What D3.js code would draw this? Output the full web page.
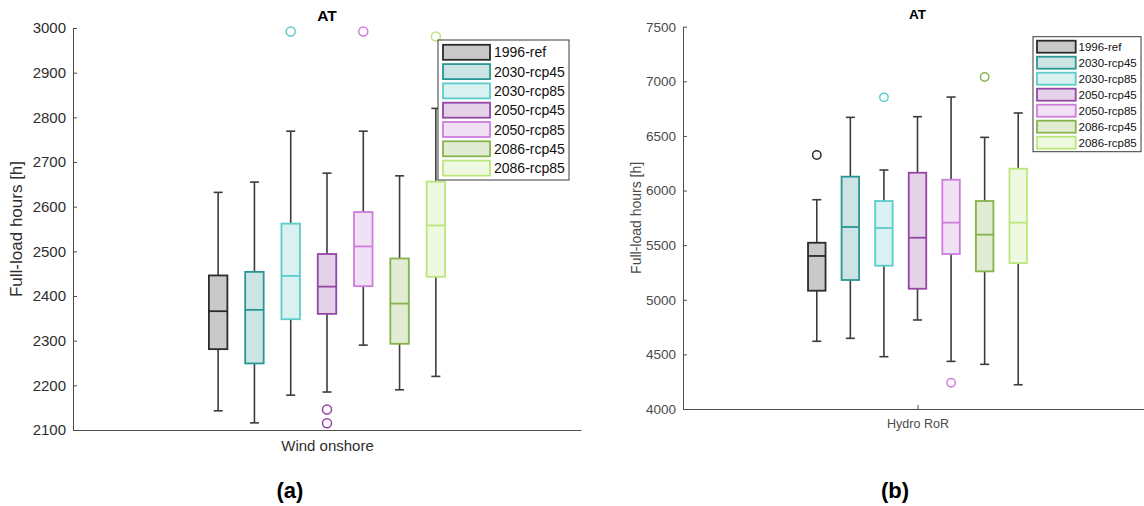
<!DOCTYPE html>
<html><head><meta charset="utf-8">
<script src="https://cdn.jsdelivr.net/npm/d3@7"></script>
<style>body{margin:0;background:#fff}svg{display:block}</style>
</head><body>
<svg id="c" width="1144" height="506"></svg>
<script>
// ---------- DATA ----------
const series = ["1996-ref","2030-rcp45","2030-rcp85","2050-rcp45","2050-rcp85","2086-rcp45","2086-rcp85"];
const edgeColors = ["#2b2b2b","#2a9694","#5ccccb","#9445a6","#cf7ddc","#86b34a","#bae77c"];
const fillColors = ["#c9c9c9","#cde4e4","#d9f1f1","#e4d3e8","#f1e1f5","#e2ebd4","#eff8e1"];

// Panel (a): Wind onshore
const windCategory = ["Wind onshore"];
const windLow  = [2143, 2116, 2178, 2185, 2290, 2190, 2220];
const windQ1   = [2281, 2249, 2348, 2360, 2422, 2293, 2443];
const windMed  = [2366, 2369, 2445, 2421, 2511, 2383, 2558];
const windQ3   = [2446, 2454, 2562, 2494, 2588, 2484, 2656];
const windHigh = [2632, 2655, 2769, 2675, 2769, 2669, 2820];
const windOut  = [[], [], [2992], [2146, 2115], [2992], [], [2981]];
const windTicks = [2100,2200,2300,2400,2500,2600,2700,2800,2900,3000];

// Panel (b): Hydro RoR
const hydroCategory = ["Hydro RoR"];
const hydroLow  = [4620, 4647, 4479, 4815, 4436, 4409, 4222];
const hydroQ1   = [5083, 5181, 5312, 5101, 5419, 5260, 5336];
const hydroMed  = [5401, 5666, 5657, 5568, 5706, 5596, 5706];
const hydroQ3   = [5522, 6127, 5904, 6163, 6099, 5904, 6200];
const hydroHigh = [5916, 6670, 6188, 6676, 6856, 6487, 6710];
const hydroOut  = [[6325], [], [6853], [], [4241], [7039], []];
const hydroTicks = [4000,4500,5000,5500,6000,6500,7000,7500];

const yLabel = "Full-load hours [h]";
const title = "AT";
const panelLabels = ["(a)", "(b)"];

// ---------- DRAW ----------
const svg = d3.select("#c");

function panel(cfg) {
  const g = svg.append("g");
  const x = d3.scalePoint().domain(cfg.category).range([cfg.x0, cfg.x1]).padding(0.5);
  const y = d3.scaleLinear().domain([cfg.ticks[0], cfg.ticks[cfg.ticks.length-1]]).range([cfg.y1, cfg.y0]);
  const cx = x(cfg.category[0]);
  const sx = d3.scaleBand().domain(series).range([cx - cfg.groupW/2, cx + cfg.groupW/2]);
  const bw = cfg.boxW, cap = cfg.capW;

  // axes
  const ya = d3.axisLeft(y).tickValues(cfg.ticks).tickSizeInner(-4).tickSizeOuter(0).tickPadding(7).tickFormat(d3.format("d"));
  const yg = g.append("g").attr("transform", `translate(${cfg.x0},0)`).call(ya);
  yg.select(".domain").attr("stroke", "#4d4d4d");
  yg.selectAll(".tick line").attr("stroke", "#4d4d4d");
  yg.selectAll(".tick text").attr("font-family", "Liberation Sans, Arial, sans-serif").attr("font-size", cfg.tickFs).attr("fill", cfg.tickCol);

  const xa = d3.axisBottom(x).tickSizeInner(cfg.xTick).tickSizeOuter(0).tickPadding(cfg.xPad);
  const xg = g.append("g").attr("transform", `translate(0,${cfg.y1})`).call(xa);
  xg.select(".domain").attr("stroke", "#4d4d4d");
  xg.selectAll(".tick line").attr("stroke", "#4d4d4d").attr("transform", `translate(0,${-cfg.xTick})`);
  xg.selectAll(".tick text").attr("font-family", "Liberation Sans, Arial, sans-serif").attr("font-size", cfg.xFs).attr("fill", cfg.tickCol);

  // y label
  g.append("text").attr("transform", `translate(${cfg.ylx},${(cfg.y0+cfg.y1)/2}) rotate(-90)`)
    .attr("text-anchor", "middle").attr("dominant-baseline", "middle")
    .attr("font-family", "Liberation Sans, Arial, sans-serif").attr("font-size", cfg.ylFs).attr("fill", cfg.tickCol)
    .text(yLabel);

  // title
  g.append("text").attr("x", cx).attr("y", cfg.titleY).attr("text-anchor", "middle")
    .attr("font-family", "Liberation Sans, Arial, sans-serif").attr("font-weight", "bold")
    .attr("font-size", cfg.titleFs).attr("fill", "#000").text(title);

  // boxes
  series.forEach((s, i) => {
    const c = sx(s) + sx.bandwidth()/2;
    const bg = g.append("g");
    // whiskers
    bg.append("line").attr("x1", c).attr("x2", c).attr("y1", y(cfg.high[i])).attr("y2", y(cfg.q3[i]))
      .attr("stroke", "#3c3c3c").attr("stroke-width", 1.6);
    bg.append("line").attr("x1", c).attr("x2", c).attr("y1", y(cfg.q1[i])).attr("y2", y(cfg.low[i]))
      .attr("stroke", "#3c3c3c").attr("stroke-width", 1.6);
    [cfg.high[i], cfg.low[i]].forEach(v => {
      bg.append("line").attr("x1", c - cap/2).attr("x2", c + cap/2).attr("y1", y(v)).attr("y2", y(v))
        .attr("stroke", "#3c3c3c").attr("stroke-width", 1.6);
    });
    // box
    bg.append("rect").attr("x", c - bw/2).attr("width", bw)
      .attr("y", y(cfg.q3[i])).attr("height", y(cfg.q1[i]) - y(cfg.q3[i]))
      .attr("fill", fillColors[i]).attr("stroke", edgeColors[i]).attr("stroke-width", 1.8);
    bg.append("line").attr("x1", c - bw/2).attr("x2", c + bw/2).attr("y1", y(cfg.med[i])).attr("y2", y(cfg.med[i]))
      .attr("stroke", edgeColors[i]).attr("stroke-width", 1.8);
    cfg.out[i].forEach(v => {
      bg.append("circle").attr("cx", c).attr("cy", y(v)).attr("r", cfg.outR)
        .attr("fill", "none").attr("stroke", edgeColors[i]).attr("stroke-width", 1.5);
    });
  });

  // legend
  const L = cfg.leg;
  const lg = g.append("g");
  lg.append("rect").attr("x", L.x).attr("y", L.y).attr("width", L.w).attr("height", L.h)
    .attr("fill", "#fff").attr("stroke", "#3a3a3a").attr("stroke-width", 1);
  series.forEach((s, i) => {
    const yy = L.y + L.first + i * L.step;
    lg.append("rect").attr("x", L.x + L.sx).attr("y", yy - L.sh/2).attr("width", L.sw).attr("height", L.sh)
      .attr("fill", fillColors[i]).attr("stroke", edgeColors[i]).attr("stroke-width", 1.8);
    lg.append("text").attr("x", L.x + L.tx).attr("y", yy).attr("dominant-baseline", "central")
      .attr("font-family", "Liberation Sans, Arial, sans-serif").attr("font-size", L.fs).attr("fill", "#111").text(s);
  });
}

panel({
  category: windCategory, ticks: windTicks,
  low: windLow, q1: windQ1, med: windMed, q3: windQ3, high: windHigh, out: windOut,
  x0: 73, x1: 581, y0: 28, y1: 430, groupW: 254, boxW: 18.5, capW: 9, outR: 4.5,
  tickFs: 15, tickCol: "#2e2e2e", xFs: 15, xTick: 0, xPad: 10, ylFs: 17, ylx: 18,
  titleY: 21, titleFs: 15.5,
  leg: {x: 438, y: 40, w: 131, h: 140, first: 12.3, step: 19.3, sx: 5, sw: 47, sh: 15, tx: 56, fs: 14}
});

panel({
  category: hydroCategory, ticks: hydroTicks,
  low: hydroLow, q1: hydroQ1, med: hydroMed, q3: hydroQ3, high: hydroHigh, out: hydroOut,
  x0: 683, x1: 1152, y0: 26.7, y1: 409, groupW: 235, boxW: 17.5, capW: 9, outR: 4.2,
  tickFs: 13.5, tickCol: "#4a4a4a", xFs: 12.5, xTick: 4, xPad: 6, ylFs: 14, ylx: 637,
  titleY: 19, titleFs: 13.5,
  leg: {x: 1033, y: 36.7, w: 108, h: 115, first: 10, step: 16, sx: 4, sw: 38.7, sh: 12, tx: 45.5, fs: 11.5}
});

// panel labels
svg.append("text").attr("x", 290).attr("y", 498).attr("text-anchor", "middle")
  .attr("font-family", "Liberation Sans, Arial, sans-serif").attr("font-weight", "bold").attr("font-size", 22)
  .attr("fill", "#000").text(panelLabels[0]);
svg.append("text").attr("x", 895).attr("y", 498).attr("text-anchor", "middle")
  .attr("font-family", "Liberation Sans, Arial, sans-serif").attr("font-weight", "bold").attr("font-size", 22)
  .attr("fill", "#000").text(panelLabels[1]);
</script>
</body></html>
